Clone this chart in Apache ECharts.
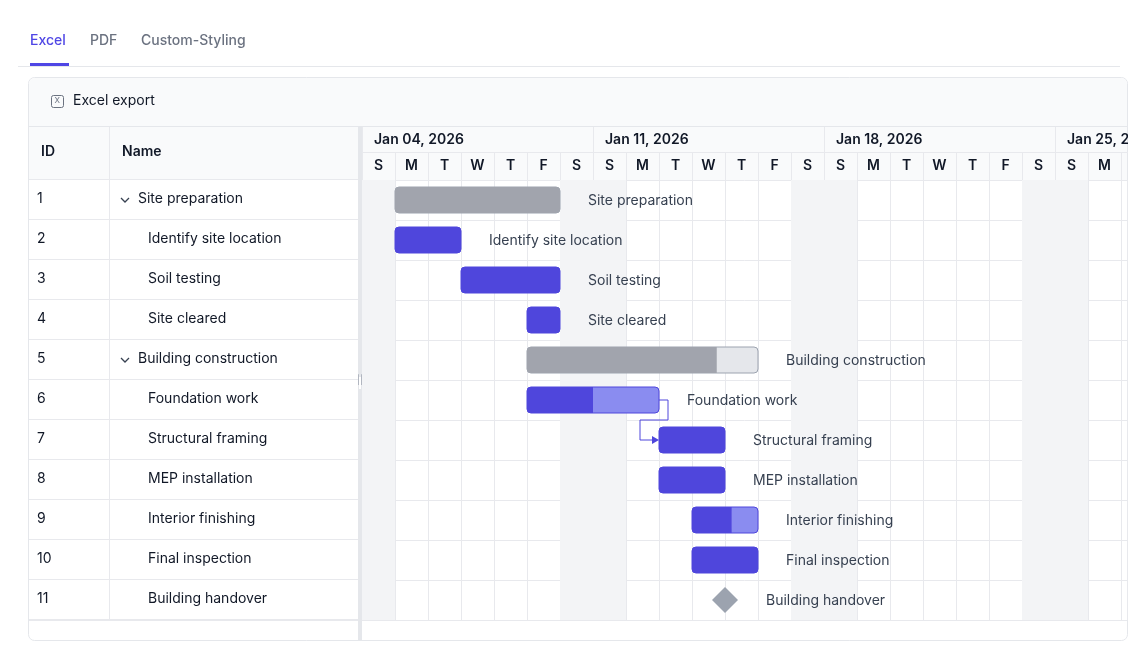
<!DOCTYPE html>
<html>
<head>
<meta charset="utf-8">
<script src="https://cdn.jsdelivr.net/npm/echarts@6/dist/echarts.min.js"></script>
<style>
html,body{margin:0;padding:0;background:#fff;}
#chart{width:1138px;height:670px;}
</style>
</head>
<body>
<div id="chart"></div>
<script>
// task data (days counted from Sun Jan 04, 2026)
var taskIds = [1,2,3,4,5,6,7,8,9,10,11];
var taskNames = ['Site preparation','Identify site location','Soil testing','Site cleared','Building construction','Foundation work','Structural framing','MEP installation','Interior finishing','Final inspection','Building handover'];
var taskStart = [1,1,3,5,5,5,9,9,10,10,11];
var taskEnd   = [6,3,6,6,12,9,11,11,12,12,11];
var taskDone  = [6,3,6,6,10.75,7,11,11,11.2,12,11];
var taskKind  = ['summary','task','task','task','summary','task','task','task','task','task','milestone'];
var taskLevel = [0,1,1,1,0,1,1,1,1,1,1];
var weekLabels = ['Jan 04, 2026','Jan 11, 2026','Jan 18, 2026','Jan 25, 2026'];
var dayLetters = ['S','M','T','W','T','F','S'];
var weekendDays = [0,6,7,13,14,20,21];
var links = [[5,6]];

var FONT = 'Inter';
var BLUE = '#4f46dc', BLUE_L = '#8a8cf0', GRAY = '#a1a4ad', GRAY_L = '#e5e7eb', LINE = '#e8e9ed';

var myChart = echarts.init(document.getElementById('chart'));

var graphics = [];
// tabs
graphics.push({type:'text',left:30,top:34,style:{text:'Excel',fill:'#4f46e5',font:'500 14px '+FONT}});
graphics.push({type:'text',left:90,top:34,style:{text:'PDF',fill:'#6b7280',font:'500 14px '+FONT}});
graphics.push({type:'text',left:141,top:34,style:{text:'Custom-Styling',fill:'#6b7280',font:'500 14px '+FONT}});
graphics.push({type:'rect',shape:{x:18,y:66,width:1102,height:1},style:{fill:'#e5e7eb'}});
graphics.push({type:'rect',shape:{x:30,y:63,width:39,height:3},style:{fill:'#4f46e5'}});
// card
graphics.push({type:'rect',z:-10,shape:{x:28.5,y:77.5,width:1099,height:563,r:6},style:{fill:'#fff',stroke:'#e5e7eb'}});
graphics.push({type:'rect',z:-9,shape:{x:29,y:78,width:1098,height:49,r:[6,6,0,0]},style:{fill:'#f9fafb'}});
graphics.push({type:'rect',z:-9,shape:{x:29,y:126,width:1098,height:1},style:{fill:'#e5e7eb'}});
graphics.push({type:'rect',shape:{x:51.5,y:95.5,width:12,height:12,r:2},style:{fill:'none',stroke:'#6b7280'}});
graphics.push({type:'text',left:54.5,top:97,style:{text:'X',fill:'#6b7280',font:'8px '+FONT}});
graphics.push({type:'text',left:73,top:94,style:{text:'Excel export',fill:'#111827',font:'14px '+FONT}});
// left table header
graphics.push({type:'rect',z:-9,shape:{x:29,y:127,width:1098,height:53},style:{fill:'#f9fafb'}});
graphics.push({type:'text',left:41,top:145,style:{text:'ID',fill:'#111827',font:'600 14px '+FONT}});
graphics.push({type:'text',left:122,top:145,style:{text:'Name',fill:'#111827',font:'600 14px '+FONT}});
graphics.push({type:'rect',shape:{x:109,y:127,width:1,height:493},style:{fill:LINE}});
graphics.push({type:'rect',shape:{x:29,y:179,width:330,height:1},style:{fill:LINE}});
taskIds.forEach(function(id,i){
  var y = 180 + i*40;
  graphics.push({type:'rect',shape:{x:29,y:y+39,width:330,height:1},style:{fill:LINE}});
  graphics.push({type:'text',left:37,top:y+12,style:{text:String(id),fill:'#111827',font:'14px '+FONT}});
  var nx = taskLevel[i] ? 148 : 138;
  graphics.push({type:'text',left:nx,top:y+12,style:{text:taskNames[i],fill:'#111827',font:'14px '+FONT}});
  if (taskKind[i]==='summary') {
    graphics.push({type:'polyline',shape:{points:[[121,y+18],[125,y+22],[129,y+18]]},style:{stroke:'#374151',lineWidth:1.3,fill:'none'}});
  }
});
// splitter
graphics.push({type:'rect',z:5,shape:{x:358,y:127,width:4,height:513},style:{fill:'#e5e7eb'}});
graphics.push({type:'rect',z:6,shape:{x:359,y:377,width:2,height:12},style:{fill:'#fff'}});
graphics.push({type:'text',z:7,left:357,top:376,style:{text:'||',fill:'#9ca3af',font:'9px '+FONT}});
graphics.push({type:'rect',shape:{x:29,y:620,width:1098,height:1},style:{fill:LINE}});
// right edge cover
graphics.push({type:'rect',z:50,shape:{x:1128,y:126,width:10,height:60},style:{fill:'#fff'}});

var dayList = [];
for (var d = 0; d < 24; d++) dayList.push(d);

myChart.setOption({
  animation:false,
  grid:{left:362,top:180,width:765,height:440},
  xAxis:{type:'value',min:0,max:765/33,interval:1,
    axisLine:{show:false},axisTick:{show:false},axisLabel:{show:false},
    splitLine:{show:true,lineStyle:{color:LINE}}},
  yAxis:{type:'category',inverse:true,data:taskIds,
    axisLine:{show:false},axisTick:{show:false},axisLabel:{show:false},
    splitLine:{show:true,lineStyle:{color:LINE}}},
  graphic:graphics,
  series:[
    { // weekend shading
      type:'custom',z:1,silent:true,
      data:weekendDays,
      renderItem:function(params,api){
        var a = api.coord([api.value(0),0]), b = api.coord([api.value(0)+1,0]);
        return {type:'rect',shape:{x:a[0],y:180,width:b[0]-a[0],height:440},style:{fill:'#f3f4f6'}};
      },
      encode:{x:0}
    },
    { // timeline header
      type:'custom',z:3,silent:true,clip:false,
      data:dayList,
      renderItem:function(params,api){
        var d = api.value(0);
        var a = api.coord([d,0]), b = api.coord([d+1,0]);
        var kids = [
          {type:'rect',shape:{x:a[0],y:153,width:1,height:27},style:{fill:LINE}},
          {type:'text',style:{text:dayLetters[d%7],x:(a[0]+b[0])/2,y:166,align:'center',verticalAlign:'middle',fill:'#111827',font:'600 14px '+FONT}}
        ];
        if (d%7===0) {
          kids.push({type:'rect',shape:{x:a[0],y:127,width:1,height:27},style:{fill:LINE}});
          kids.push({type:'text',style:{text:weekLabels[d/7],x:a[0]+12,y:140,verticalAlign:'middle',fill:'#111827',font:'600 14px '+FONT}});
        }
        kids.push({type:'rect',shape:{x:a[0],y:152,width:b[0]-a[0],height:1},style:{fill:LINE}});
        return {type:'group',children:kids};
      },
      encode:{x:0}
    },
    { // bars
      type:'custom',z:4,clip:false,
      data:taskIds.map(function(id,i){return [taskStart[i],taskEnd[i],taskDone[i],i];}),
      renderItem:function(params,api){
        var i = api.value(3);
        var s = api.coord([api.value(0),i]), e = api.coord([api.value(1),i]), p = api.coord([api.value(2),i]);
        var yc = s[1], h = 26, kids = [], labelX;
        if (taskKind[i]==='milestone') {
          kids.push({type:'polygon',shape:{points:[[s[0],yc-13],[s[0]+13,yc],[s[0],yc+13],[s[0]-13,yc]]},style:{fill:'#9ca3af'}});
          labelX = s[0]+41;
        } else {
          var summary = taskKind[i]==='summary';
          var full = summary ? GRAY : BLUE, rest = summary ? GRAY_L : BLUE_L;
          kids.push({type:'rect',shape:{x:s[0],y:yc-h/2,width:e[0]-s[0],height:h,r:4},style:{fill:rest,stroke:summary?'#9ca3af':BLUE,lineWidth:1}});
          var pr = p[0] >= e[0] ? 4 : [4,0,0,4];
          kids.push({type:'rect',shape:{x:s[0],y:yc-h/2,width:p[0]-s[0],height:h,r:pr},style:{fill:full}});
          labelX = e[0]+28;
        }
        kids.push({type:'text',style:{text:taskNames[i],x:labelX,y:yc+1,verticalAlign:'middle',fill:'#374151',font:'14px '+FONT}});
        return {type:'group',children:kids};
      },
      encode:{x:[0,1],y:3}
    },
    { // dependency links
      type:'custom',z:5,clip:false,silent:true,
      data:links,
      renderItem:function(params,api){
        var f = api.value(0), t = api.value(1);
        var a = api.coord([taskEnd[f],f]), b = api.coord([taskStart[t],t]);
        var mid = (a[1]+b[1])/2, xl = b[0]-19;
        return {type:'group',children:[
          {type:'polyline',shape:{points:[[a[0],a[1]],[a[0]+9,a[1]],[a[0]+9,mid],[xl,mid],[xl,b[1]],[b[0]-6,b[1]]]},style:{stroke:BLUE,lineWidth:1,fill:'none'}},
          {type:'polygon',shape:{points:[[b[0]-7,b[1]-4],[b[0],b[1]],[b[0]-7,b[1]+4]]},style:{fill:BLUE}}
        ]};
      },
      encode:{x:0}
    }
  ]
});
</script>
</body>
</html>
